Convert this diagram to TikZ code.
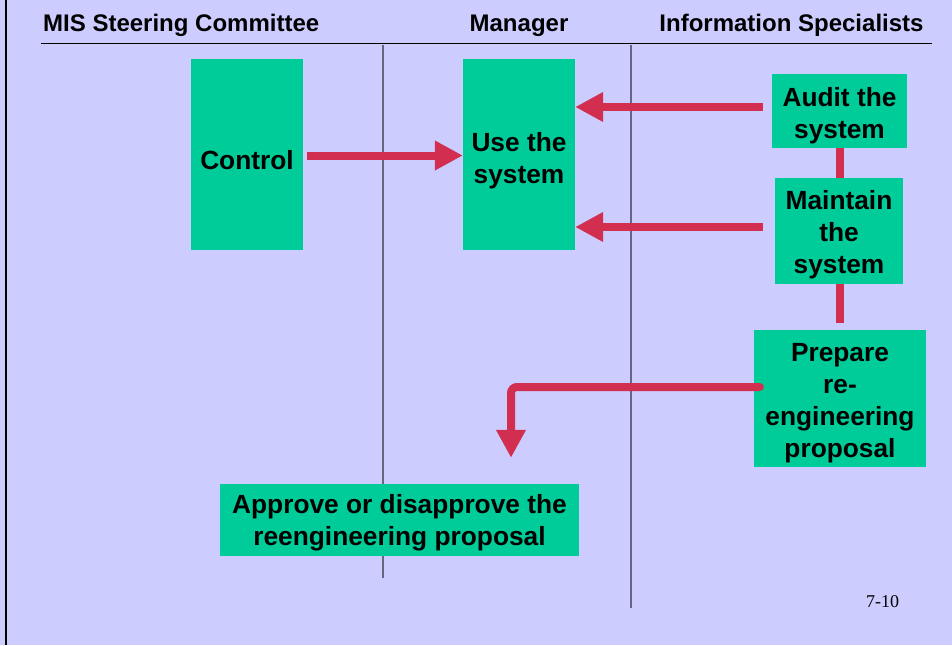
\documentclass[tikz,border=0pt]{standalone}
\usepackage{fontspec}
\setmainfont{Liberation Sans}
\newfontfamily\timesfont{Liberation Serif}
\usetikzlibrary{arrows.meta,calc}
\definecolor{bgc}{HTML}{CCCCFF}
\definecolor{boxc}{HTML}{00CC99}
\definecolor{arrc}{HTML}{D22F50}
\definecolor{lanec}{HTML}{666680}
\begin{document}
\begin{tikzpicture}[x=1pt,y=-1pt,
  box/.style={fill=boxc, inner sep=0pt},
  btext/.style={inner sep=0pt, align=center, font=\fontsize{26.3}{32}\selectfont\bfseries},
  head/.style={inner sep=0pt, font=\fontsize{24}{28}\selectfont\bfseries},
  arr/.style={draw=arrc, line width=8pt, -{Triangle[length=28pt,width=28pt]}},
  conn/.style={draw=arrc, line width=8pt},
  lane/.style={draw=lanec, line width=1.3pt}]
\fill[bgc] (0,0) rectangle (952,645);
\useasboundingbox (0,0) rectangle (952,645);
% frame line at left
\coordinate (fl1) at (6,0);
\coordinate (fl2) at (6,645);
\draw[line width=2pt] (fl1) -- (fl2);
% headers
\node[head, anchor=base west] (h1) at (43,31) {MIS Steering Committee};
\node[head, anchor=base] (h2) at (519,31) {Manager};
\node[head, anchor=base] (h3) at (791.5,31) {Information Specialists};
\coordinate (hl1) at (41,43.5);
\coordinate (hl2) at (932,43.5);
\draw[line width=1.3pt] (hl1) -- (hl2);
% lane separators
\coordinate (v1a) at (383,45);
\coordinate (v1b) at (383,578);
\coordinate (v2a) at (631,45);
\coordinate (v2b) at (631,608);
\draw[lane] (v1a) -- (v1b);
\draw[lane] (v2a) -- (v2b);
% boxes
\node[box, minimum width=112pt, minimum height=191pt] (ctrl) at (247,154.5) {};
\node[btext] (ctrlt) at (247,160) {Control};
\node[box, minimum width=112pt, minimum height=191pt] (use) at (519,154.5) {};
\node[btext] (uset) at (519,160.5) {Use the\\system};
\node[box, minimum width=135pt, minimum height=74pt] (audit) at (839.5,111) {};
\node[btext] (auditt) at ($(audit)+(0,4.5)$) {Audit the\\system};
\node[box, minimum width=128pt, minimum height=106pt] (maint) at (839,231) {};
\node[btext] (maintt) at ($(maint)+(0,4)$) {Maintain\\the\\system};
\node[box, minimum width=172pt, minimum height=137pt] (prep) at (840,398.5) {};
\node[btext] (prept) at ($(prep)+(0,5)$) {Prepare\\re-\\engineering\\proposal};
\node[box, minimum width=359pt, minimum height=72pt] (appr) at (399.5,520) {};
\node[btext] (apprt) at ($(appr)+(0,3)$) {Approve or disapprove the\\reengineering proposal};
% connectors
\draw[arr] ($(ctrl.east)+(4,1)$) coordinate (c1) -- (c1 -| use.west);
\draw[arr] ($(audit.west)+(-9,-4)$) coordinate (a1) -- (a1 -| use.east);
\draw[arr] ($(maint.west)+(-12,-4)$) coordinate (m1) -- (m1 -| use.east);
\draw[conn] (audit.south) -- (audit.south |- maint.north);
\draw[conn] (audit.south |- maint.south) -- ($(audit.south |- prep.north)+(0,-7)$);
\coordinate (p2) at ($(appr.north)+(111.5,-26)$);
\draw[arr, line cap=round, rounded corners=6pt] ($(prep.west)+(6,-11.5)$) -| (p2);
% page number
\node[inner sep=0pt, anchor=base, font=\timesfont\fontsize{18}{20}\selectfont] (pg) at (882.5,607) {7-10};
\end{tikzpicture}
\end{document}
